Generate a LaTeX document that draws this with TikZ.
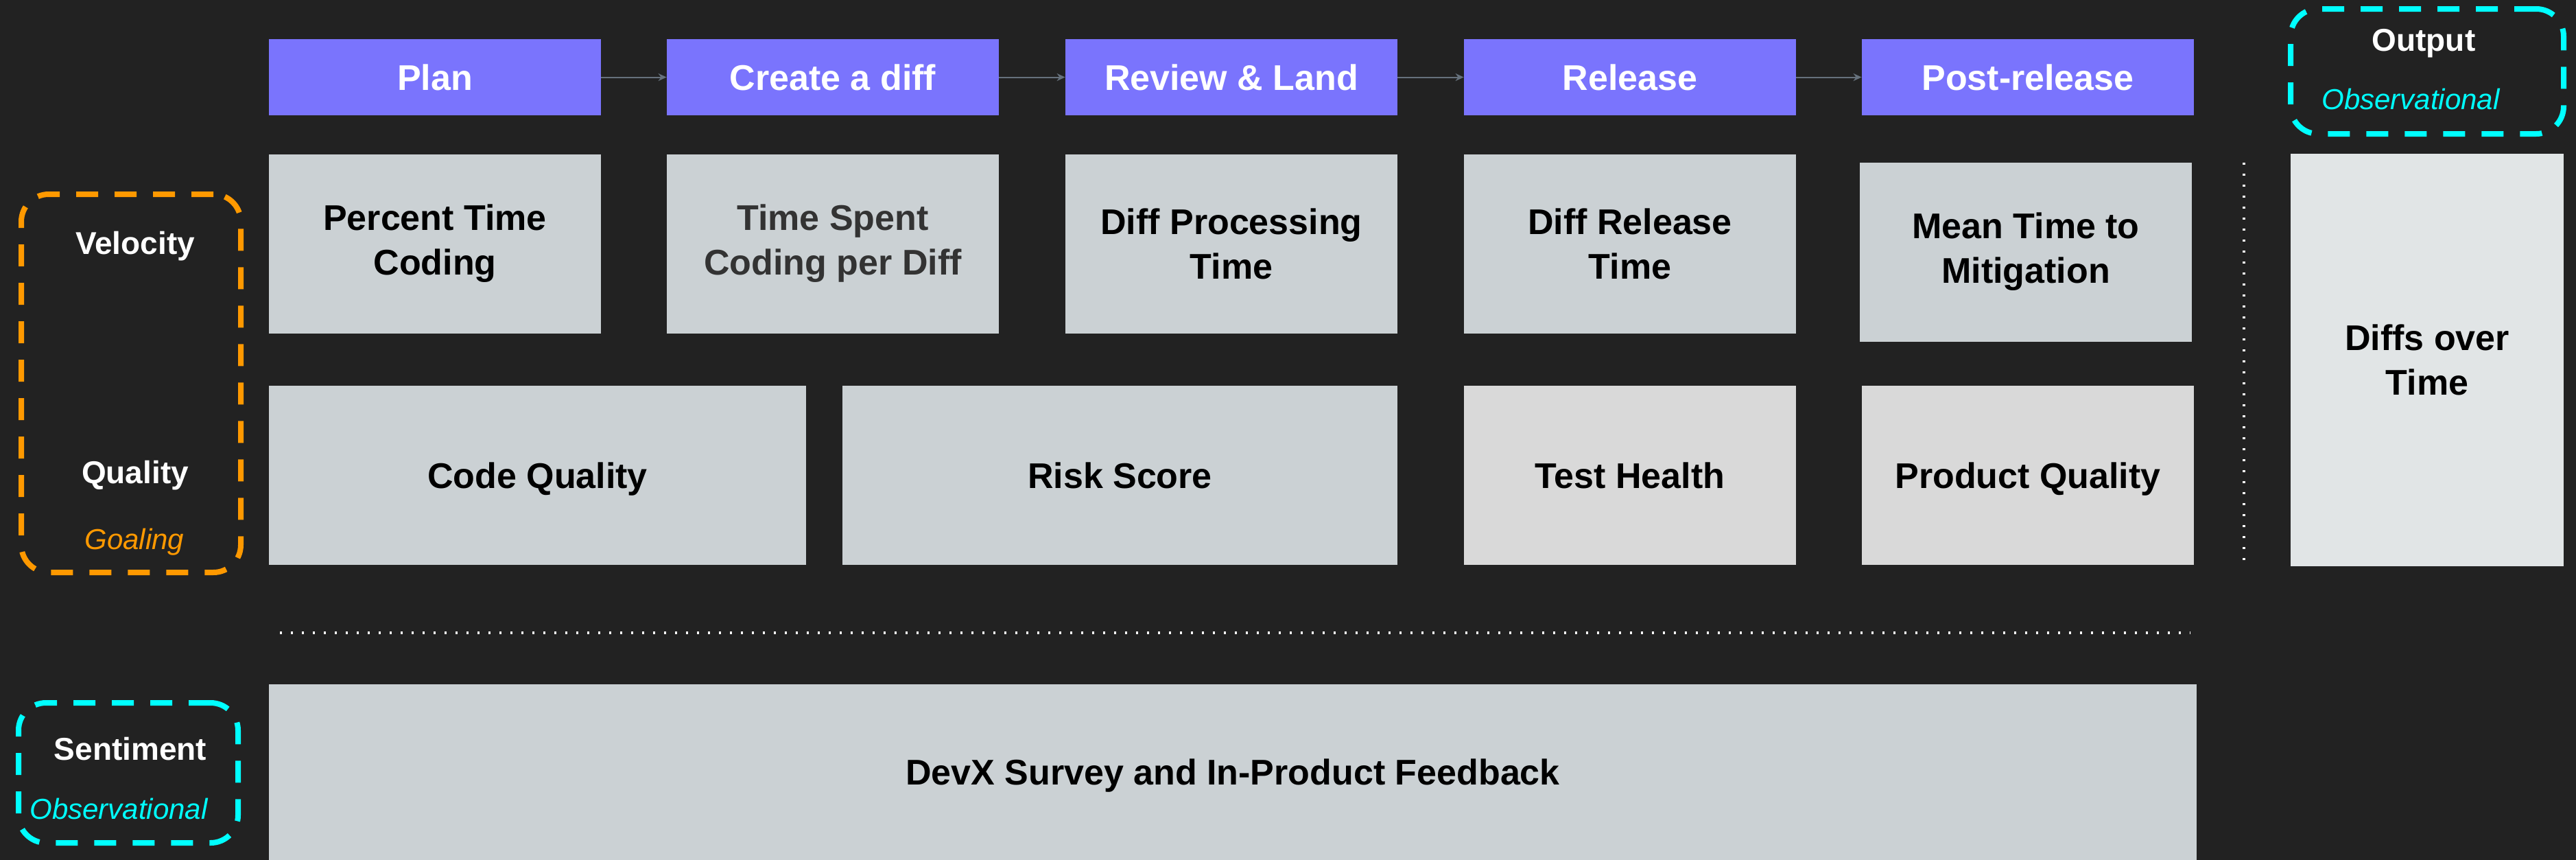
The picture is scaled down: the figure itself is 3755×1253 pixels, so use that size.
\documentclass[tikz,border=0pt]{standalone}
\usepackage{fontspec}
\setmainfont{Liberation Sans}
\usetikzlibrary{arrows.meta}
\definecolor{bgc}{HTML}{222222}
\definecolor{hdr}{HTML}{7A74FD}
\definecolor{mbox}{HTML}{CBD1D4}
\definecolor{mboxb}{HTML}{D9D9D9}
\definecolor{mboxc}{HTML}{E1E5E6}
\definecolor{orng}{HTML}{FF9900}
\definecolor{cyn}{HTML}{00FFFF}
\definecolor{arr}{HTML}{66717C}
\definecolor{dimtxt}{HTML}{333333}
\begin{document}
\begin{tikzpicture}[x=0.5pt,y=-0.5pt,
  hdrbox/.style={fill=hdr, draw=none, inner sep=0pt, minimum width=242pt, minimum height=55.5pt,
     text=white, text height=23.4pt, text depth=4.78pt, font=\fontsize{26}{32.5}\selectfont\bfseries},
  metric/.style={fill=mbox, draw=none, inner sep=0pt, minimum height=130.5pt, minimum width=242pt,
     text=black, align=center, font=\fontsize{26}{32.5}\selectfont\bfseries},
  oneline/.style={text height=23.4pt, text depth=4.78pt},
  flowarrow/.style={draw=arr, line width=1pt, -{Stealth[length=6pt,width=5.5pt]}},
  groupbox/.style={rounded corners=20pt, line width=4pt, dash pattern=on 16pt off 12pt, inner sep=0pt, fill=none},
  grouplabel/.style={text=white, text height=20.7pt, text depth=4.23pt, font=\fontsize{23}{27}\selectfont\bfseries},
  grouptag/.style={text height=18.9pt, text depth=3.86pt, font=\fontsize{21}{25}\selectfont\itshape},
  dotline/.style={draw=white, line width=2pt, dash pattern=on 1.6pt off 6.4pt}
]
\fill[bgc] (0,0) rectangle (3755,1253);
\useasboundingbox (0,0) rectangle (3755,1253);

% header stages
\node[hdrbox] (plan) at (634,112.5) {Plan};
\node[hdrbox] (create) at (1214,112.5) {Create a diff};
\node[hdrbox] (review) at (1795,112.5) {Review \& Land};
\node[hdrbox] (release) at (2376,112.5) {Release};
\node[hdrbox] (post) at (2956,112.5) {Post-release};
\draw[flowarrow] (plan.east) -- (create.west);
\draw[flowarrow] (create.east) -- (review.west);
\draw[flowarrow] (review.east) -- (release.west);
\draw[flowarrow] (release.east) -- (post.west);

% velocity row
\node[metric] (ptc) at (634,355) {Percent Time\\Coding};
\node[metric, text=dimtxt] (tsc) at (1214,355) {Time Spent\\Coding per Diff};
\node[metric] (dpt) at (1795,355) {Diff Processing\\Time};
\node[metric] (drt) at (2376,355) {Diff Release\\Time};
\node[metric] (mtm) at (2953,367) {Mean Time to\\Mitigation};

% quality row
\node[metric, oneline, minimum width=391.5pt] (cq) at (783.5,692.5) {Code Quality};
\node[metric, oneline, minimum width=404.5pt] (rs) at (1632.5,692.5) {Risk Score};
\node[metric, oneline, fill=mboxb] (th) at (2376,692.5) {Test Health};
\node[metric, oneline, fill=mboxb] (pq) at (2956,692.5) {Product Quality};

% output
\node[metric, fill=mboxc, minimum width=199pt, minimum height=300.5pt] (dot) at (3538,524) {Diffs over\\Time};

% sentiment
\node[metric, oneline, minimum width=1405pt, minimum height=128pt] (devx) at (1797,1125) {DevX Survey and In-Product Feedback};

% separators
\coordinate (vs1) at (3271,237);
\coordinate (vs2) at (3271,817);
\draw[dotline] (vs1) -- (vs2);
\coordinate (hs1) at (408,922);
\coordinate (hs2) at (3193,922);
\draw[dotline] (hs1) -- (hs2);

% group boxes
\node[groupbox, draw=orng, minimum width=160pt, minimum height=275.5pt] (vqbox) at (191,558.5) {};
\node[grouplabel] (vel) at (197,354) {Velocity};
\node[grouplabel] (qual) at (197,688) {Quality};
\node[grouptag, text=orng] (goal) at (196,785) {Goaling};

\node[groupbox, draw=cyn, minimum width=199pt, minimum height=91pt] (outbox) at (3538,104) {};
\node[grouplabel] (outl) at (3533,58.5) {Output};
\node[grouptag, text=cyn] (obs1) at (3514,144) {Observational};

\node[groupbox, draw=cyn, minimum width=160pt, minimum height=102pt] (sentbox) at (187,1126) {};
\node[grouplabel] (sent) at (190,1091) {Sentiment};
\node[grouptag, text=cyn] (obs2) at (173,1178) {Observational};
\end{tikzpicture}
\end{document}
